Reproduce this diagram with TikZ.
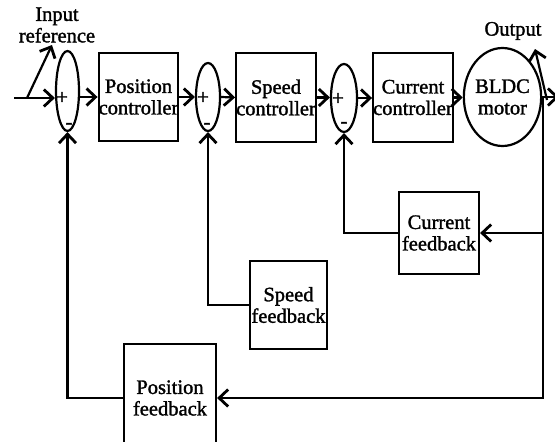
\documentclass[tikz,border=0pt]{standalone}
\usepackage{fontspec}
\setmainfont{Liberation Serif}[FakeBold=1.5]
\usetikzlibrary{arrows.meta, shapes.geometric}

\begin{document}
\begin{tikzpicture}[x=1pt, y=-1pt,
      block/.style={draw, line width=2.2pt, inner sep=0pt, align=center},
      summer/.style={draw, ellipse, line width=2.2pt, inner sep=0pt, align=center},
      arrow/.style={-{Straight Barb[length=9pt, width=17pt, line width=2.8pt]}, line width=2.2pt},
      sign/.style={font=\fontsize{21}{21}\selectfont, inner sep=0pt},
      every node/.style={font=\fontsize{20.5}{21.5}\selectfont}
      ]
    \path[use as bounding box] (0,0) rectangle (555,442);
    \clip (0,0) rectangle (555,442);

    % Forward path
    \node[summer, minimum width=23pt, minimum height=80pt] (sumpos) at (67.5,91) {};
    \node[block, minimum width=77pt, minimum height=88pt] (posctrl) at (138.5,97) {Position\\controller};
    \node[summer, minimum width=24pt, minimum height=68pt] (sumspeed) at (208,97) {};
    \node[block, minimum width=76pt, minimum height=89pt] (speedctrl) at (276,97.5) {Speed\\controller};
    \node[summer, minimum width=26pt, minimum height=68pt] (sumcur) at (344,98) {};
    \node[block, minimum width=78pt, minimum height=89pt] (curctrl) at (413,97.5) {Current\\controller};
    \node[summer, minimum width=67pt, minimum height=98pt] (motor) at (502.5,97) {BLDC\\motor};

    % Feedback blocks
    \node[block, minimum width=80pt, minimum height=82pt] (curfb) at (439,233) {Current\\feedback};
    \node[block, minimum width=77pt, minimum height=88pt] (speedfb) at (288.5,305) {Speed\\feedback};
    \node[block, minimum width=92pt, minimum height=108pt] (posfb) at (170,398) {Position\\feedback};

    % Signs on the summing points
    \node[sign] (plus1) at (62,98) {+};
    \node[sign] (minus1) at (69,126) {-};
    \node[sign] (plus2) at (203,98) {+};
    \node[sign] (minus2) at (207,126) {-};
    \node[sign] (plus3) at (338,99) {+};
    \node[sign] (minus3) at (344,125) {-};

    % Labels
    \node[align=center] (inlabel) at (57,25) {Input\\reference};
    \node (outlabel) at (513,31) {Output};

    \coordinate (in) at (14,98);
    \coordinate (refbase) at (27,98);
    \coordinate (reftip) at (52,45);
    \coordinate (tap) at (543,97);
    \coordinate (out) at (559,97);
    \coordinate (outbase) at (547,100);
    \coordinate (outtip) at (535,49);

    % Arrows
    \draw[arrow] (in) -- (sumpos.west |- in);
    \draw[arrow] (refbase) -- (reftip);
    \draw[arrow] (sumpos.east |- posctrl.west) -- (posctrl.west);
    \draw[arrow] (posctrl.east) -- (sumspeed.west);
    \draw[arrow] (sumspeed.east) -- (speedctrl.west);
    \draw[arrow] (speedctrl.east) -- (sumcur.west |- speedctrl.east);
    \draw[arrow] (sumcur.east) -- (curctrl.west |- sumcur.east);
    \draw[arrow] (curctrl.east) -- (motor.west |- curctrl.east);
    \draw[arrow] (motor.east) -- (out);
    \draw[arrow] (outbase) -- (outtip);

    % Feedback loops
    \draw[arrow] (tap) |- (posfb.east);
    \draw[arrow] (tap |- curfb.east) -- (curfb.east);
    \draw[arrow] (curfb.west) -| (sumcur.south);
    \draw[arrow] (speedfb.west) -| (sumspeed.south);
    \draw[arrow] (posfb.west) -| (sumpos.south);

\end{tikzpicture}
\end{document}
